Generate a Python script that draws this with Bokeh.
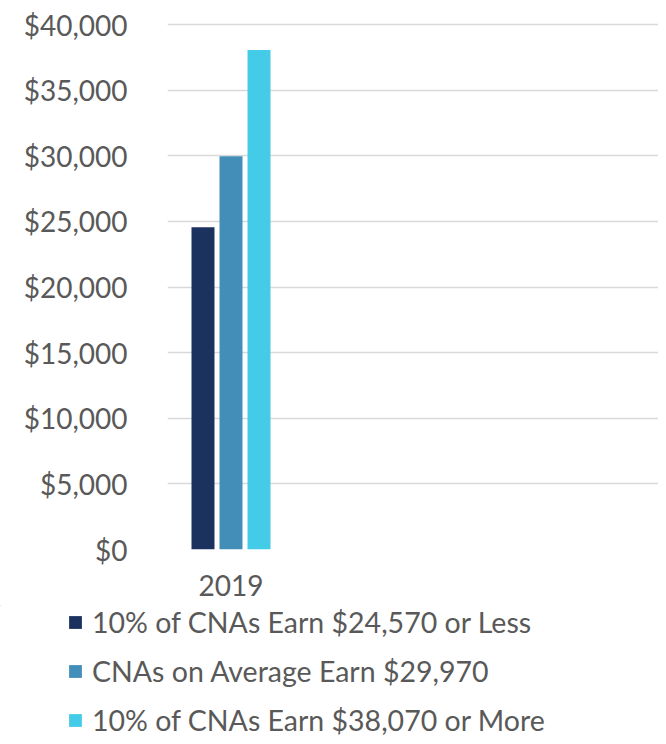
from bokeh.plotting import figure
from bokeh.layouts import column, row
from bokeh.models import Range1d, FixedTicker, NumeralTickFormatter, Legend, LegendItem, ColumnDataSource
from bokeh.embed import file_html
from bokeh.resources import INLINE

categories = ["2019"]
series_names = [
    "10% of CNAs Earn $24,570 or Less",
    "CNAs on Average Earn $29,970",
    "10% of CNAs Earn $38,070 or More",
]
low_values = [24570]
avg_values = [29970]
high_values = [38070]
colors = ["#1b325f", "#438eb9", "#44cbe8"]
y_ticks = [0, 5000, 10000, 15000, 20000, 25000, 30000, 35000, 40000]

FONT = "Lato"
TEXT = "#595959"

p = figure(width=658, height=605, output_backend="svg", toolbar_location=None,
           x_range=Range1d(-0.5, 3.366), y_range=Range1d(0, 40320),
           min_border_left=167, min_border_right=0, min_border_top=20,
           min_border_bottom=56)
p.outline_line_color = None
p.background_fill_color = "white"
p.border_fill_color = "white"

bar_w = 0.181
step = 0.2205
sources = []
for i, (name, vals) in enumerate(zip(series_names, [low_values, avg_values, high_values])):
    xs = [c_i + (i - 1) * step for c_i in range(len(categories))]
    src = ColumnDataSource(dict(x=xs, top=vals))
    sources.append(src)
    p.vbar(x="x", top="top", width=bar_w, bottom=0, source=src,
           fill_color=colors[i], line_color=None)

p.xaxis.ticker = FixedTicker(ticks=list(range(len(categories))))
p.xaxis.major_label_overrides = {i: c for i, c in enumerate(categories)}
p.xaxis.axis_line_color = None
p.xaxis.major_tick_line_color = None
p.xaxis.minor_tick_line_color = None
p.xaxis.major_label_text_font = FONT
p.xaxis.major_label_text_font_size = "28px"
p.xaxis.major_label_text_color = TEXT
p.xaxis.major_label_standoff = 19

p.yaxis.ticker = FixedTicker(ticks=y_ticks)
p.yaxis.formatter = NumeralTickFormatter(format="$0,0")
p.yaxis.axis_line_color = None
p.yaxis.major_tick_line_color = None
p.yaxis.minor_tick_line_color = None
p.yaxis.major_label_text_font = FONT
p.yaxis.major_label_text_font_size = "28px"
p.yaxis.major_label_text_color = TEXT
p.yaxis.major_label_standoff = 34

p.xgrid.grid_line_color = None
p.ygrid.ticker = FixedTicker(ticks=y_ticks)
p.ygrid.grid_line_color = "#d9d9d9"
p.ygrid.grid_line_width = 1.5

# legend panel: separate figure below the chart; the shared-source renderers
# here have zero width and lie outside the view, so they only supply swatches
lg = figure(width=658, height=131, output_backend="svg", toolbar_location=None,
            x_axis_location=None, y_axis_location=None,
            x_range=Range1d(5, 6), y_range=Range1d(-2, -1),
            min_border_left=0, min_border_right=0, min_border_top=0, min_border_bottom=0)
lg.outline_line_color = None
lg.grid.visible = False
lg.border_fill_color = "white"
lg.background_fill_color = "white"
items = []
for i, name in enumerate(series_names):
    r = lg.vbar(x="x", top="top", width=0, bottom=0, source=sources[i],
                fill_color=colors[i], line_color=None)
    items.append(LegendItem(label=name, renderers=[r]))

legend = Legend(items=items, location=(67, -1), orientation="vertical",
                glyph_width=16, glyph_height=16, label_standoff=9,
                spacing=15, padding=0, margin=0,
                border_line_color=None, background_fill_alpha=0,
                label_text_font=FONT, label_text_font_size="28.5px",
                label_text_color=TEXT)
lg.add_layout(legend, "center")

layout = column(p, row(lg, spacing=0), spacing=0)
open("out.html", "w").write(file_html(layout, INLINE))
